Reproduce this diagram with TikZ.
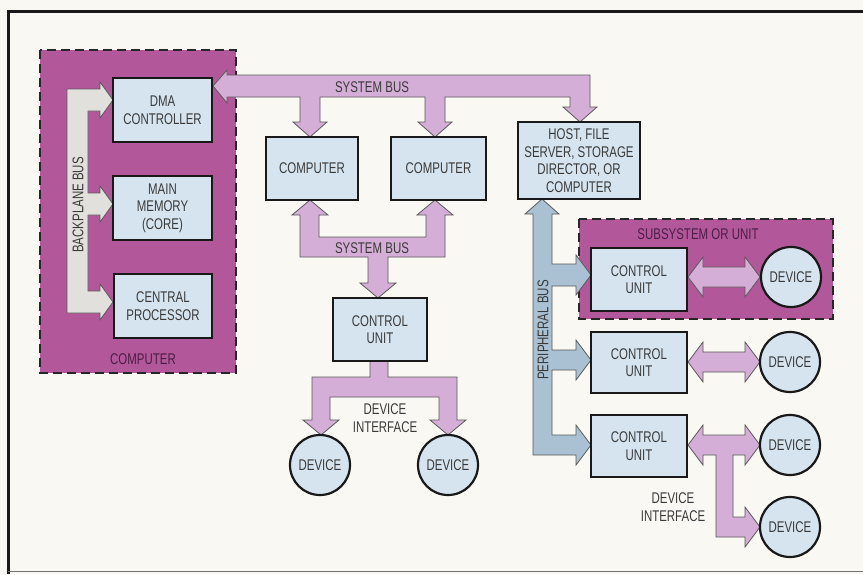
\documentclass[tikz,border=0pt]{standalone}
\usepackage{fontspec}
\setmainfont[FakeStretch=0.74]{Liberation Sans}
\definecolor{bg}{HTML}{FAF8F3}
\definecolor{magfill}{HTML}{B2589A}
\definecolor{boxblue}{HTML}{D6E4EF}
\definecolor{busgray}{HTML}{E2E0DC}
\definecolor{buslilac}{HTML}{D4AED6}
\definecolor{busblue}{HTML}{A9C1D3}
\definecolor{txt}{HTML}{3A3A3A}
\definecolor{dpurple}{HTML}{4B1E45}
\tikzset{
  box/.style={draw=black!90, line width=2.2pt, fill=boxblue, inner sep=0pt, align=center, text=txt,
    font=\fontsize{15.5}{17.5}\selectfont},
  dev/.style={circle, draw=black!90, line width=2.2pt, fill=boxblue, inner sep=0pt, minimum size=60pt,
    text=txt, font=\fontsize{15.5}{17.5}\selectfont},
  dashbox/.style={draw=black!85, line width=2.4pt, dash pattern=on 9pt off 5pt, fill=magfill},
  bus/.style={draw=black!65, line width=0.8pt, line join=miter},
  lbl/.style={text=txt, inner sep=0pt, align=center, font=\fontsize{15.5}{17.5}\selectfont},
}
\begin{document}
\begin{tikzpicture}[x=1pt,y=-1pt]
\useasboundingbox (0,0) rectangle (863,574);
\fill[bg] (0,0) rectangle (863,574);
% frame
\draw[black!90, line width=3pt] (8,574) -- (8,11) -- (863,11);
\draw[black!55, line width=1.5pt] (8,571.5) -- (863,571.5);

% dashed group boxes
\path[dashbox] (40,50) rectangle (236,373);
\path[dashbox] (579,219) rectangle (833,319);
\node[lbl, text=dpurple] (lcomp) at (143,359) {COMPUTER};
\node[lbl, text=dpurple] (lsub) at (698,234) {SUBSYSTEM OR UNIT};

% backplane bus
\draw[bus, fill=busgray] (67,89) -- (100,89) -- (100,82) -- (113,100) -- (100,118) -- (100,111) -- (88,111)
  -- (88,193) -- (100,193) -- (100,186) -- (113,204) -- (100,222) -- (100,215) -- (88,215)
  -- (88,291) -- (100,291) -- (100,284) -- (113,302) -- (100,320) -- (100,313) -- (67,313) -- cycle;
\node[lbl, rotate=90] (lbp) at (78,205) {BACKPLANE BUS};

% top system bus
\draw[bus, fill=buslilac] (213,86) -- (227,70) -- (227,75) -- (590,75) -- (590,107) -- (597,107) -- (580,122)
  -- (563,107) -- (570,107) -- (570,97) -- (445,97) -- (445,122) -- (452,122) -- (435,137) -- (418,122)
  -- (425,122) -- (425,97) -- (320,97) -- (320,122) -- (327,122) -- (310,137) -- (293,122) -- (300,122)
  -- (300,97) -- (227,97) -- (227,103) -- cycle;
\node[lbl] (lsb1) at (372,87) {SYSTEM BUS};

% lower system bus
\draw[bus, fill=buslilac] (310,200) -- (328,215) -- (319,215) -- (319,237) -- (426,237) -- (426,215)
  -- (417,215) -- (435,200) -- (453,215) -- (445,215) -- (445,257) -- (388,257) -- (388,283) -- (396,283)
  -- (378,298) -- (360,283) -- (368,283) -- (368,257) -- (300,257) -- (300,215) -- (292,215) -- cycle;
\node[lbl] (lsb2) at (372,248) {SYSTEM BUS};

% middle device interface
\draw[bus, fill=buslilac] (370,361) -- (388,361) -- (388,377) -- (457,377) -- (457,420) -- (466,420)
  -- (448,435) -- (430,420) -- (439,420) -- (439,397) -- (330,397) -- (330,420) -- (339,420) -- (321,435)
  -- (303,420) -- (312,420) -- (312,377) -- (370,377) -- cycle;
\node[lbl] (ldi1) at (385,418) {DEVICE\\INTERFACE};

% peripheral bus
\draw[bus, fill=busblue] (542,199) -- (559,214) -- (552,214) -- (552,264) -- (576,264) -- (576,255)
  -- (591,275) -- (576,295) -- (576,286) -- (552,286) -- (552,350) -- (576,350) -- (576,340) -- (591,360)
  -- (576,380) -- (576,370) -- (552,370) -- (552,435) -- (576,435) -- (576,425) -- (591,445) -- (576,465)
  -- (576,455) -- (533,455) -- (533,214) -- (525,214) -- cycle;
\node[lbl, rotate=90] (lpb) at (543,330) {PERIPHERAL BUS};

% device links right
\draw[bus, fill=buslilac] (688,277) -- (703,257) -- (703,267) -- (745,267) -- (745,257) -- (760,277)
  -- (745,297) -- (745,287) -- (703,287) -- (703,297) -- cycle;
\draw[bus, fill=buslilac] (688,362) -- (703,342) -- (703,352) -- (745,352) -- (745,342) -- (760,362)
  -- (745,382) -- (745,372) -- (703,372) -- (703,382) -- cycle;
\draw[bus, fill=buslilac] (688,445) -- (703,425) -- (703,435) -- (745,435) -- (745,425) -- (760,445)
  -- (745,465) -- (745,455) -- (733,455) -- (733,517) -- (745,517) -- (745,507) -- (760,527) -- (745,547)
  -- (745,537) -- (716,537) -- (716,455) -- (703,455) -- (703,465) -- cycle;
\node[lbl] (ldi2) at (673,507) {DEVICE\\INTERFACE};

% boxes
\node[box, minimum width=99pt, minimum height=64pt] (dma) at (162.5,110) {DMA\\CONTROLLER};
\node[box, minimum width=99pt, minimum height=64pt] (mem) at (162.5,208) {MAIN\\MEMORY\\(CORE)};
\node[box, minimum width=98pt, minimum height=64pt] (cpu) at (163,306) {CENTRAL\\PROCESSOR};
\node[box, minimum width=92pt, minimum height=63pt] (comp1) at (312,168.5) {COMPUTER};
\node[box, minimum width=95pt, minimum height=63pt] (comp2) at (438.5,168.5) {COMPUTER};
\node[box, minimum width=122pt, minimum height=77pt] (host) at (579,160.5) {HOST, FILE\\SERVER, STORAGE\\DIRECTOR, OR\\COMPUTER};
\node[box, minimum width=94pt, minimum height=63pt] (cu) at (380,329.5) {CONTROL\\UNIT};
\node[box, minimum width=96pt, minimum height=63pt] (cu1) at (639,279.5) {CONTROL\\UNIT};
\node[box, minimum width=96pt, minimum height=61pt] (cu2) at (639,362.5) {CONTROL\\UNIT};
\node[box, minimum width=96pt, minimum height=62pt] (cu3) at (639,446) {CONTROL\\UNIT};

% devices
\node[dev] (d1) at (320,465) {DEVICE};
\node[dev] (d2) at (448,465) {DEVICE};
\node[dev] (d3) at (791,277) {DEVICE};
\node[dev] (d4) at (790,362) {DEVICE};
\node[dev] (d5) at (790,445) {DEVICE};
\node[dev] (d6) at (790,527) {DEVICE};
\end{tikzpicture}
\end{document}
